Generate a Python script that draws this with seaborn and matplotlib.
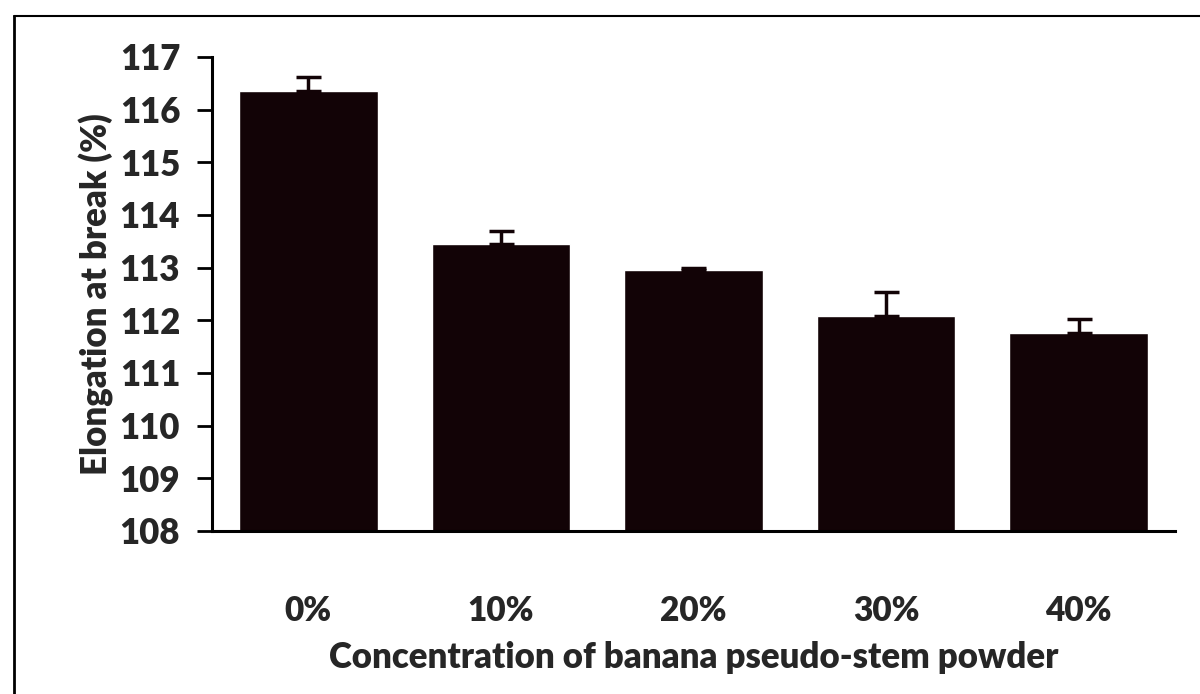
import matplotlib
matplotlib.use("Agg")
import matplotlib.pyplot as plt
from matplotlib.lines import Line2D
import seaborn as sns

# Elongation at break for each filler loading
concentrations = ["0%", "10%", "20%", "30%", "40%"]
elongation = [116.35, 113.45, 112.95, 112.08, 111.76]
elongation_sd = [0.27, 0.25, 0.05, 0.45, 0.27]
y_ticks = [108, 109, 110, 111, 112, 113, 114, 115, 116, 117]

sns.set_theme(style="white")
plt.rcParams["font.family"] = ["Lato", "DejaVu Sans"]

fig = plt.figure(figsize=(12, 6.94), dpi=100)
ax = fig.add_axes([0.1767, 0.2349, 0.8023, 0.683])

bar_color = "#120306"
sns.barplot(x=concentrations, y=elongation, color=bar_color, width=0.72,
            saturation=1, ax=ax)

# upper half of the standard deviation only
ax.errorbar(range(len(concentrations)), elongation,
            yerr=[[0] * len(elongation_sd), elongation_sd],
            fmt="none", ecolor=bar_color, elinewidth=2.5, capsize=9,
            capthick=2.5)

ax.set_xlim(-0.5, len(concentrations) - 0.5)
ax.set_ylim(108, 117)
ax.set_yticks(y_ticks)
ax.set_yticklabels([str(t) for t in y_ticks], fontsize=25, fontweight="heavy")
ax.tick_params(axis="y", direction="out", length=11, width=2, color="black",
               pad=12, left=True)
ax.tick_params(axis="x", length=0, pad=46, labelsize=24)
for lbl in ax.get_xticklabels():
    lbl.set_fontweight("heavy")

for side in ("top", "right"):
    ax.spines[side].set_visible(False)
for side in ("left", "bottom"):
    ax.spines[side].set_color("black")
    ax.spines[side].set_linewidth(2.2)

ax.set_xlabel("Concentration of banana pseudo-stem powder", fontsize=25,
              fontweight="heavy", labelpad=10)
ax.set_ylabel("Elongation at break (%)", fontsize=25, fontweight="heavy",
              labelpad=4)
ax.grid(False)

# outer frame of the figure panel
fig.add_artist(Line2D([14 / 1200, 14 / 1200], [0, 1 - 16 / 694],
                      transform=fig.transFigure, color="black", lw=2))
fig.add_artist(Line2D([14 / 1200, 1], [1 - 16 / 694, 1 - 16 / 694],
                      transform=fig.transFigure, color="black", lw=1.5))

fig.savefig("out.png", dpi=100)
